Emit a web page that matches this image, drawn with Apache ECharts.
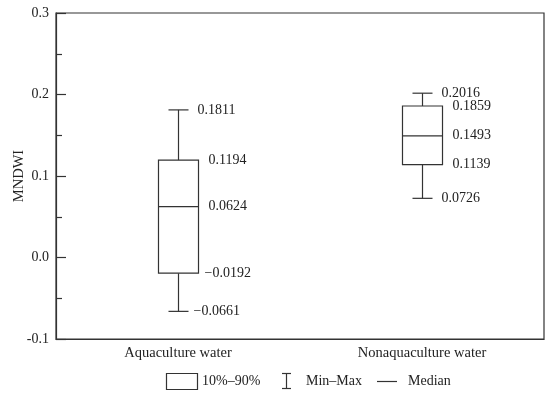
<!DOCTYPE html>
<html>
<head>
<meta charset="utf-8">
<script src="https://cdn.jsdelivr.net/npm/echarts@6/dist/echarts.min.js"></script>
<style>html,body{margin:0;padding:0;background:#fff}#c{width:550px;height:393px}</style>
</head>
<body>
<div id="c"></div>
<script>
const categories = ['Aquaculture water', 'Nonaquaculture water'];
const minVals = [-0.0661, 0.0726];
const q10Vals = [-0.0192, 0.1139];
const medianVals = [0.0624, 0.1493];
const q90Vals = [0.1194, 0.1859];
const maxVals = [0.1811, 0.2016];
const yTicks = { min: -0.1, max: 0.3, interval: 0.1 };
const legendLabels = ['10%\u201390%', 'Min\u2013Max', 'Median'];

const FONT = '"Liberation Serif", "Times New Roman", serif';
const INK = '#222';
const LINE = '#333';

function fmt(v) {
  return v < 0 ? '\u2212' + Math.abs(v).toFixed(4) : v.toFixed(4);
}

const chart = echarts.init(document.getElementById('c'), null, { renderer: 'canvas' });

const data = categories.map((c, i) => [i, minVals[i], q10Vals[i], medianVals[i], q90Vals[i], maxVals[i]]);

function renderItem(params, api) {
  const x = api.value(0);
  const vMin = api.value(1), vQ1 = api.value(2), vMed = api.value(3), vQ3 = api.value(4), vMax = api.value(5);
  const pMin = api.coord([x, vMin]);
  const pQ1 = api.coord([x, vQ1]);
  const pMed = api.coord([x, vMed]);
  const pQ3 = api.coord([x, vQ3]);
  const pMax = api.coord([x, vMax]);
  const bandW = api.size([1, 0])[0];
  const bw = bandW * 0.164;
  const cw = bandW * 0.082;
  const cx = Math.round(pMed[0]) + 0.5;
  const ls = { stroke: LINE, lineWidth: 1.2, fill: null };
  const children = [
    { type: 'line', shape: { x1: cx, y1: pMax[1], x2: cx, y2: pQ3[1] }, style: ls },
    { type: 'line', shape: { x1: cx, y1: pQ1[1], x2: cx, y2: pMin[1] }, style: ls },
    { type: 'line', shape: { x1: cx - cw / 2, y1: pMax[1], x2: cx + cw / 2, y2: pMax[1] }, style: ls },
    { type: 'line', shape: { x1: cx - cw / 2, y1: pMin[1], x2: cx + cw / 2, y2: pMin[1] }, style: ls },
    { type: 'rect', shape: { x: cx - bw / 2, y: pQ3[1], width: bw, height: pQ1[1] - pQ3[1] }, style: { stroke: LINE, lineWidth: 1.2, fill: '#fff' } },
    { type: 'line', shape: { x1: cx - bw / 2, y1: pMed[1], x2: cx + bw / 2, y2: pMed[1] }, style: ls }
  ];
  const capX = cx + cw / 2 + 9;
  const boxX = cx + bw / 2 + 10;
  const lab = (v, p, lx) => ({
    type: 'text',
    style: {
      text: fmt(v), x: lx - (v < 0 ? 4 : 0), y: p[1],
      verticalAlign: 'middle', align: 'left',
      font: '14px ' + FONT, fill: INK
    }
  });
  children.push(lab(vMax, pMax, capX));
  children.push(lab(vQ3, pQ3, boxX));
  children.push(lab(vMed, pMed, boxX));
  children.push(lab(vQ1, pQ1, boxX));
  children.push(lab(vMin, pMin, capX));
  return { type: 'group', children };
}

const legendY = 381;
const option = {
  backgroundColor: '#fff',
  animation: false,
  textStyle: { fontFamily: FONT },
  grid: { left: 56, right: 6, top: 13, bottom: 54, outerBoundsMode: 'none', containLabel: false, show: true, borderColor: LINE, borderWidth: 1.2, backgroundColor: 'transparent' },
  xAxis: {
    type: 'category',
    data: categories,
    boundaryGap: true,
    axisLine: { onZero: false, lineStyle: { color: LINE, width: 1.2 } },
    axisTick: { inside: true, alignWithLabel: true, length: 10, lineStyle: { color: LINE, width: 1.2 } },
    axisLabel: { color: INK, fontSize: 14.5, fontFamily: FONT, margin: 7 },
    splitLine: { show: false }
  },
  yAxis: {
    type: 'value',
    min: yTicks.min, max: yTicks.max, interval: yTicks.interval,
    name: 'MNDWI',
    nameLocation: 'middle',
    nameGap: 29,
    nameMoveOverlap: false,
    nameTextStyle: { color: INK, fontSize: 14.5, fontFamily: FONT },
    axisLine: { show: true, lineStyle: { color: LINE, width: 1.2 } },
    axisTick: { show: true, inside: true, length: 10, lineStyle: { color: LINE, width: 1.2 } },
    minorTick: { show: true, splitNumber: 2, length: 6, lineStyle: { color: LINE, width: 1.2 } },
    axisLabel: { color: INK, fontSize: 14, fontFamily: FONT, margin: 7, formatter: v => v.toFixed(1) },
    splitLine: { show: false },
    minorSplitLine: { show: false }
  },
  series: [{
    type: 'custom',
    renderItem: renderItem,
    data: data,
    encode: { x: 0, y: [1, 2, 3, 4, 5] },
    clip: false
  }],
  graphic: [
    { type: 'rect', shape: { x: 166.5, y: 373.5, width: 31, height: 16 }, style: { stroke: LINE, lineWidth: 1.2, fill: '#fff' } },
    { type: 'text', style: { text: legendLabels[0], x: 202, y: legendY, verticalAlign: 'middle', font: '14px ' + FONT, fill: INK } },
    { type: 'line', shape: { x1: 286.5, y1: 373, x2: 286.5, y2: 389 }, style: { stroke: LINE, lineWidth: 1.2 } },
    { type: 'line', shape: { x1: 282, y1: 373.5, x2: 291, y2: 373.5 }, style: { stroke: LINE, lineWidth: 1.2 } },
    { type: 'line', shape: { x1: 282, y1: 388.5, x2: 291, y2: 388.5 }, style: { stroke: LINE, lineWidth: 1.2 } },
    { type: 'text', style: { text: legendLabels[1], x: 306, y: legendY, verticalAlign: 'middle', font: '14px ' + FONT, fill: INK } },
    { type: 'line', shape: { x1: 377, y1: 381.5, x2: 397, y2: 381.5 }, style: { stroke: LINE, lineWidth: 1.2 } },
    { type: 'text', style: { text: legendLabels[2], x: 408, y: legendY, verticalAlign: 'middle', font: '14px ' + FONT, fill: INK } }
  ]
};
chart.setOption(option);
</script>
</body>
</html>
